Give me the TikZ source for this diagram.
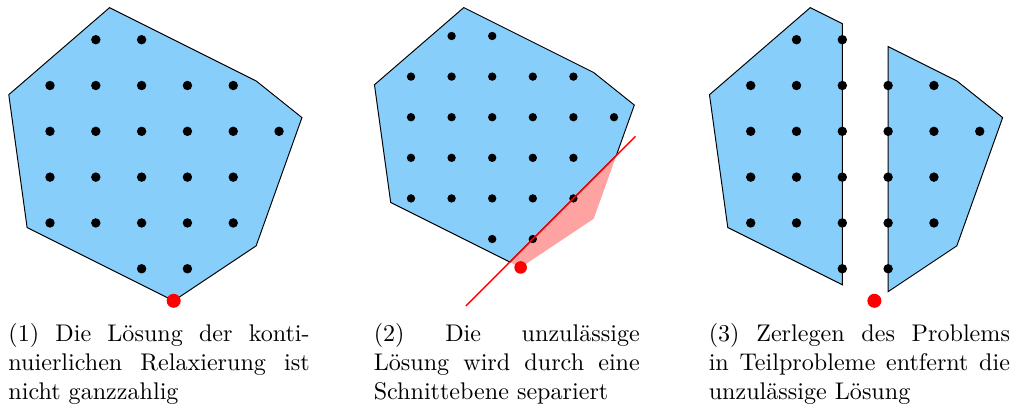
\documentclass[tikz,border=0pt]{standalone}
\usepackage{tikz}
\definecolor{polyblue}{RGB}{135,206,250}
\definecolor{cutpink}{RGB}{255,162,162}
\newcommand\captsetup{\tolerance=10000\relax\hbadness=10000\relax\hyphenpenalty=10000\relax}
\tikzset{
  poly/.style={fill=polyblue, draw=black, line width=0.4pt, line join=miter},
  cutline/.style={draw=red, line width=0.6pt},
  latdot/.style={fill=black},
  reddot/.style={fill=red},
  capt/.style={anchor=base west, inner sep=0pt, align=justify,
    font=\fontsize{10}{12}\selectfont},
}
\newcommand\latticedots{%
  \foreach \r/\cols in {0/{1,2},1/{0,1,2,3,4},2/{0,1,2,3,4,5},3/{0,1,2,3,4},4/{0,1,2,3,4},5/{2,3}}{
    \foreach \c in \cols {\fill[latdot] (\c,\r) circle [radius=0.103];}
  }%
}
\begin{document}
\begin{tikzpicture}[x=0.415pt, y=-0.415pt]
\useasboundingbox (0,0) rectangle (1011,403);

% Panel 1
\begin{scope}[shift={(50,39.7)}, x=19.01pt, y=-19.01pt]
  \draw[poly] (1.3,-0.7) -- (4.5,0.9) -- (5.5,1.7) -- (4.5,4.5) -- (2.7,5.7) -- (-0.5,4.1) -- (-0.9,1.2) -- cycle;
  \latticedots
  \fill[reddot] (2.7,5.7) circle [radius=0.153];
\end{scope}

% Panel 2
\begin{scope}[shift={(411,36)}, x=16.85pt, y=-16.85pt]
  \fill[cutpink] (5.056,2.944) -- (4.5,4.5) -- (2.7,5.7) -- (2.433,5.567) -- cycle;
  \draw[poly] (1.3,-0.7) -- (4.5,0.9) -- (5.5,1.7) -- (5.056,2.944) -- (2.433,5.567) -- (-0.5,4.1) -- (-0.9,1.2) -- cycle;
  \latticedots
  \coordinate (cutA) at (1.35,6.65);
  \coordinate (cutB) at (5.53,2.47);
  \draw[cutline] (cutA) -- (cutB);
  \fill[reddot] (2.7,5.7) circle [radius=0.155];
\end{scope}

% Panel 3
\begin{scope}[shift={(750.7,39.7)}, x=19.01pt, y=-19.01pt]
  \draw[poly] (1.3,-0.7) -- (2,-0.35) -- (2,5.35) -- (-0.5,4.1) -- (-0.9,1.2) -- cycle;
  \draw[poly] (3,0.15) -- (4.5,0.9) -- (5.5,1.7) -- (4.5,4.5) -- (3,5.5) -- cycle;
  \latticedots
  \fill[reddot] (2.7,5.7) circle [radius=0.153];
\end{scope}

% Captions
\node[capt, text width=125pt] (cap1) at (8,341.7)
  {\captsetup(1) Die Lösung der konti-\linebreak nuierlichen Relaxierung ist\linebreak nicht ganzzahlig};
\node[capt, text width=110.4pt] (cap2) at (373.3,341.7)
  {\captsetup(2) Die unzulässige\linebreak Lösung wird durch eine\linebreak Schnittebene separiert};
\node[capt, text width=125pt] (cap3) at (708.3,341.7)
  {\captsetup(3) Zerlegen des Problems\linebreak in Teilprobleme entfernt die\linebreak unzulässige Lösung};
\end{tikzpicture}
\end{document}
